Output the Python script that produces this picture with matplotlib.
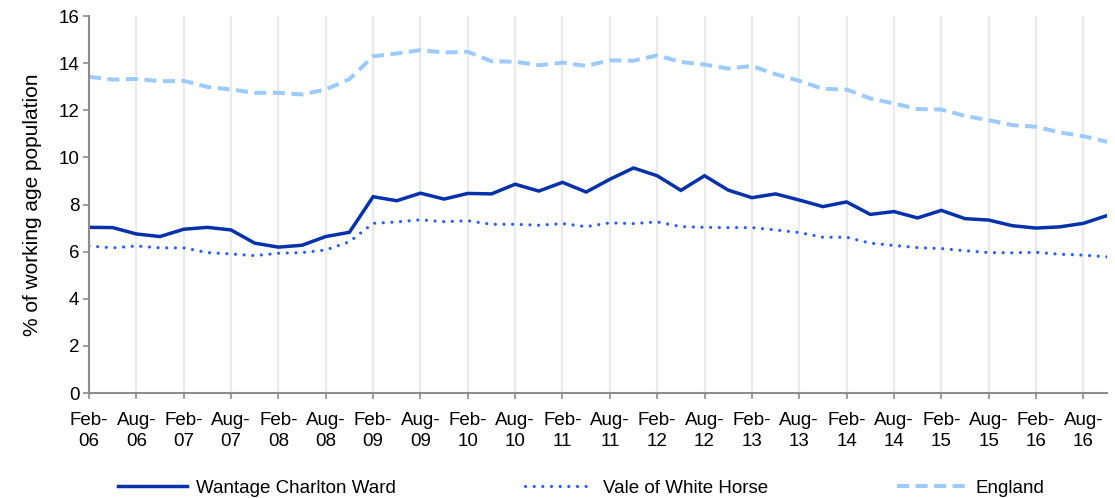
import numpy as np
import pandas as pd
import matplotlib
matplotlib.use("Agg")
import matplotlib.pyplot as plt

# quarterly periods, Feb-06 .. Nov-16
periods = pd.date_range("2006-02-01", periods=44, freq="3MS")
labels = [p.strftime("%b-\n%y") for p in periods]

wantage = [7.03, 7.02, 6.75, 6.64, 6.95, 7.03, 6.92, 6.36, 6.19, 6.27,
           6.64, 6.82, 8.33, 8.16, 8.48, 8.23, 8.47, 8.45, 8.86, 8.57,
           8.94, 8.53, 9.07, 9.55, 9.22, 8.60, 9.22, 8.61, 8.29, 8.45,
           8.19, 7.91, 8.11, 7.58, 7.70, 7.43, 7.75, 7.40, 7.34, 7.10,
           7.00, 7.05, 7.20, 7.53]
vale = [6.24, 6.16, 6.24, 6.16, 6.16, 5.96, 5.90, 5.83, 5.93, 5.96,
        6.07, 6.42, 7.20, 7.26, 7.35, 7.27, 7.31, 7.16, 7.16, 7.12,
        7.19, 7.06, 7.22, 7.19, 7.26, 7.06, 7.03, 7.02, 7.02, 6.92,
        6.81, 6.61, 6.61, 6.36, 6.26, 6.17, 6.13, 6.04, 5.96, 5.95,
        5.97, 5.89, 5.85, 5.78]
england = [13.42, 13.30, 13.33, 13.23, 13.25, 12.99, 12.88, 12.74, 12.74, 12.67,
           12.88, 13.32, 14.29, 14.41, 14.55, 14.45, 14.48, 14.08, 14.06, 13.91,
           14.02, 13.88, 14.12, 14.10, 14.33, 14.05, 13.94, 13.77, 13.88, 13.53,
           13.25, 12.91, 12.88, 12.50, 12.29, 12.05, 12.03, 11.76, 11.58, 11.37,
           11.30, 11.06, 10.90, 10.66]

FS = 13.5
plt.rcParams.update({
    "font.family": ["Liberation Sans", "DejaVu Sans"],
    "font.size": FS,
})

fig = plt.figure(figsize=(11.15, 4.98), dpi=100)
ax = fig.add_axes([89 / 1115, 1 - 393 / 498, (1107 - 89) / 1115, (393 - 16) / 498])

x = np.arange(len(periods))
ax.plot(x, wantage, color="#0532A8", lw=2.5, label="Wantage Charlton Ward",
        solid_joinstyle="miter")
ax.plot(x, vale, color="#2A5CFF", lw=2.3, linestyle=(0, (0.01, 2.7)),
        dash_capstyle="round", label="Vale of White Horse")
ax.plot(x, england, color="#9DCBFF", lw=2.9, linestyle=(0, (3.0, 1.6)),
        label="England")

ax.set_xlim(0, len(periods) - 1)
ax.set_ylim(0, 16)
ax.set_yticks(np.arange(0, 17, 2))
ax.set_xticks(x[::2])
ax.set_xticklabels(labels[::2], ha="center", linespacing=1.3)
ax.xaxis.grid(True, color="#EBEBEB", lw=1.6)
ax.set_axisbelow(True)

for s in ("top", "right"):
    ax.spines[s].set_visible(False)
for s in ("left", "bottom"):
    ax.spines[s].set_color("#8C8C8C")
    ax.spines[s].set_linewidth(1.5)
ax.tick_params(axis="both", color="#8C8C8C", length=4, width=1.2, pad=3,
               labelsize=FS)
ax.tick_params(axis="x", pad=10)

ax.set_ylabel("% of working age population", fontsize=15, labelpad=12)

fig.legend(loc="center left", bbox_to_anchor=(118 / 1115, 10 / 498),
           ncol=3, frameon=False, handlelength=3.7, handletextpad=0.45,
           columnspacing=6.9, borderpad=0, borderaxespad=0, fontsize=FS)

fig.savefig("out.png", dpi=100)
